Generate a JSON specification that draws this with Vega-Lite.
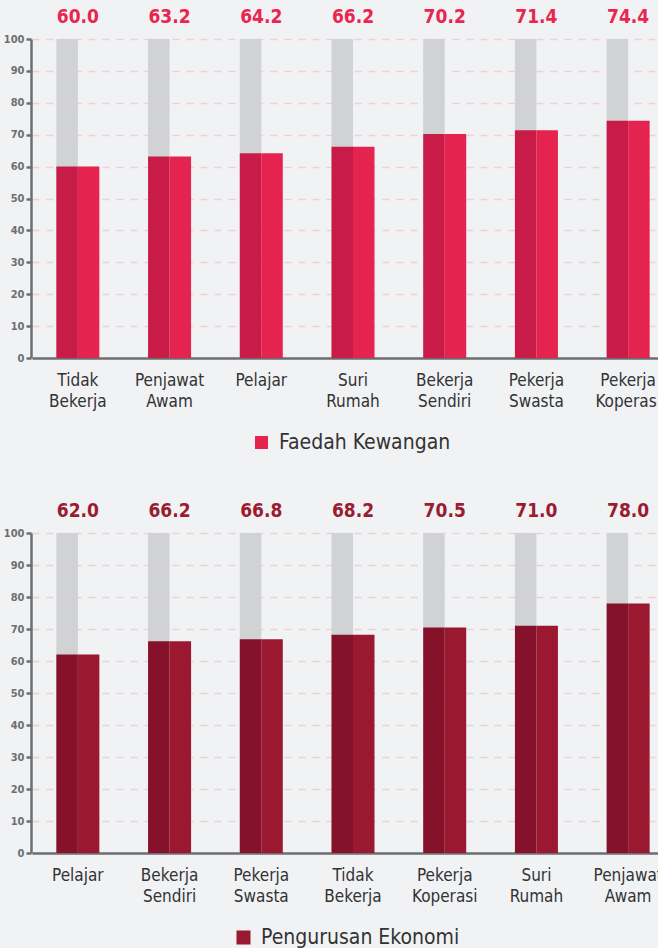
{
  "$schema": "https://vega.github.io/schema/vega-lite/v6.json",
  "background": "#f1f2f4",
  "padding": {"left": 3, "top": 8, "right": 0, "bottom": 0},
  "config": {
    "view": {"stroke": null},
    "font": "DejaVu Sans Condensed, Roboto, sans-serif",
    "axisY": {
      "title": null, "values": [0, 10, 20, 30, 40, 50, 60, 70, 80, 90, 100],
      "domainColor": "#6d6e71", "domainWidth": 2.5, "tickColor": "#6d6e71",
      "tickWidth": 2.5, "tickSize": 5, "labelPadding": 2, "labelFontSize": 11,
      "labelFontWeight": "bold", "labelColor": "#6d6e71", "grid": true,
      "gridColor": "#f4cdd2", "gridDash": [7, 7], "gridWidth": 1.5, "labelOverlap": false
    },
    "axisX": {
      "title": null, "ticks": false, "domainColor": "#6d6e71", "domainWidth": 2.5,
      "labelAngle": 0, "labelFontSize": 17,
      "labelColor": "#333333", "labelLineHeight": 21, "labelPadding": 14,
      "labelBaseline": "top", "labelOverlap": false, "labelLimit": 200, "grid": false
    },
    "legend": {"labelLimit": 400}
  },
  "datasets": {
    "faedah": [
      {"kategori": "Tidak Bekerja", "nilai": 60.0, "siri": "Faedah Kewangan"},
      {"kategori": "Penjawat Awam", "nilai": 63.2, "siri": "Faedah Kewangan"},
      {"kategori": "Pelajar", "nilai": 64.2, "siri": "Faedah Kewangan"},
      {"kategori": "Suri Rumah", "nilai": 66.2, "siri": "Faedah Kewangan"},
      {"kategori": "Bekerja Sendiri", "nilai": 70.2, "siri": "Faedah Kewangan"},
      {"kategori": "Pekerja Swasta", "nilai": 71.4, "siri": "Faedah Kewangan"},
      {"kategori": "Pekerja Koperasi", "nilai": 74.4, "siri": "Faedah Kewangan"}
    ],
    "pengurusan": [
      {"kategori": "Pelajar", "nilai": 62.0, "siri": "Pengurusan Ekonomi"},
      {"kategori": "Bekerja Sendiri", "nilai": 66.2, "siri": "Pengurusan Ekonomi"},
      {"kategori": "Pekerja Swasta", "nilai": 66.8, "siri": "Pengurusan Ekonomi"},
      {"kategori": "Tidak Bekerja", "nilai": 68.2, "siri": "Pengurusan Ekonomi"},
      {"kategori": "Pekerja Koperasi", "nilai": 70.5, "siri": "Pengurusan Ekonomi"},
      {"kategori": "Suri Rumah", "nilai": 71.0, "siri": "Pengurusan Ekonomi"},
      {"kategori": "Penjawat Awam", "nilai": 78.0, "siri": "Pengurusan Ekonomi"}
    ]
  },
  "resolve": {
    "scale": {"x": "independent", "y": "independent", "color": "independent"},
    "legend": {"color": "independent"},
    "axis": {"x": "independent", "y": "independent"}
  },
  "spacing": 49,
  "vconcat": [
    {
      "width": 626,
      "height": 319,
      "data": {"name": "faedah"},
      "encoding": {
        "x": {
          "field": "kategori", "type": "nominal", "sort": null,
          "scale": {"range": [1, 643], "paddingInner": 0.53, "paddingOuter": 0.265},
          "axis": {"labelExpr": "split(datum.label, ' ')"}
        }
      },
      "layer": [
        {
          "mark": {"type": "bar", "width": 21.5, "xOffset": -10.75, "color": "#d1d2d4"},
          "encoding": {"y": {"datum": 100, "type": "quantitative", "scale": {"domain": [0, 100], "nice": false}}}
        },
        {
          "mark": {"type": "bar", "width": 21.5, "xOffset": -10.75, "color": "#c81b47"},
          "encoding": {"y": {"field": "nilai", "type": "quantitative"}}
        },
        {
          "mark": {"type": "bar", "width": 21.5, "xOffset": 10.75},
          "encoding": {
            "y": {"field": "nilai", "type": "quantitative"},
            "color": {
              "field": "siri", "type": "nominal", "scale": {"range": ["#e4234f"]},
              "legend": {
                "title": null, "orient": "none", "legendX": 220, "legendY": 393,
                "symbolType": "square", "symbolSize": 169, "symbolStrokeWidth": 0,
                "labelFontSize": 21, "labelColor": "#333333", "labelOffset": 7
              }
            }
          }
        },
        {
          "mark": {"type": "text", "dy": -22, "fontSize": 19, "fontWeight": "bold", "color": "#e8264f"},
          "encoding": {
            "y": {"datum": 100, "type": "quantitative"},
            "text": {"field": "nilai", "type": "quantitative", "format": ".1f"}
          }
        }
      ]
    },
    {
      "width": 626,
      "height": 320,
      "data": {"name": "pengurusan"},
      "encoding": {
        "x": {
          "field": "kategori", "type": "nominal", "sort": null,
          "scale": {"range": [1, 643], "paddingInner": 0.53, "paddingOuter": 0.265},
          "axis": {"labelExpr": "split(datum.label, ' ')"}
        }
      },
      "layer": [
        {
          "mark": {"type": "bar", "width": 21.5, "xOffset": -10.75, "color": "#d1d2d4"},
          "encoding": {"y": {"datum": 100, "type": "quantitative", "scale": {"domain": [0, 100], "nice": false}}}
        },
        {
          "mark": {"type": "bar", "width": 21.5, "xOffset": -10.75, "color": "#85112a"},
          "encoding": {"y": {"field": "nilai", "type": "quantitative"}}
        },
        {
          "mark": {"type": "bar", "width": 21.5, "xOffset": 10.75},
          "encoding": {
            "y": {"field": "nilai", "type": "quantitative"},
            "color": {
              "field": "siri", "type": "nominal", "scale": {"range": ["#9a1830"]},
              "legend": {
                "title": null, "orient": "none", "legendX": 202, "legendY": 394,
                "symbolType": "square", "symbolSize": 196, "symbolStrokeWidth": 0,
                "labelFontSize": 21, "labelColor": "#333333", "labelOffset": 7
              }
            }
          }
        },
        {
          "mark": {"type": "text", "dy": -22, "fontSize": 19, "fontWeight": "bold", "color": "#9b1c31"},
          "encoding": {
            "y": {"datum": 100, "type": "quantitative"},
            "text": {"field": "nilai", "type": "quantitative", "format": ".1f"}
          }
        }
      ]
    }
  ]
}
